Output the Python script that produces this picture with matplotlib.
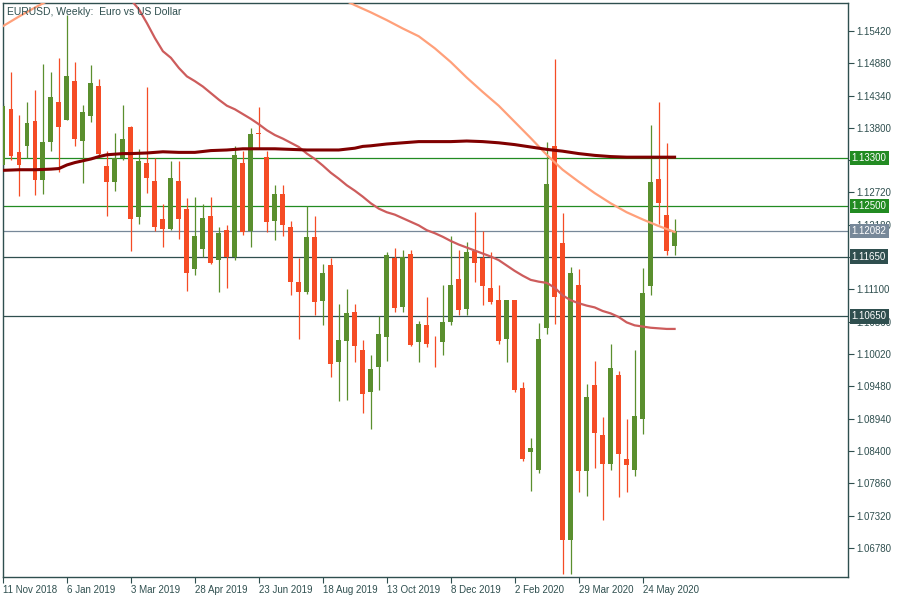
import numpy as np
import pandas as pd
import matplotlib
matplotlib.use("Agg")
import matplotlib.pyplot as plt
import matplotlib.transforms as mtransforms

plt.rcParams["font.family"] = ["Liberation Sans", "DejaVu Sans"]

# === weekly EURUSD candles, 11 Nov 2018 .. 21 Jun 2020 ===
opens = [1.1318, 1.1412, 1.1339, 1.1350, 1.1391, 1.1293, 1.1357, 1.1423, 1.1393, 1.1458,
         1.1358, 1.1399, 1.1450, 1.1317, 1.1289, 1.1329, 1.1381, 1.1231, 1.1322, 1.1292,
         1.1227, 1.1211, 1.1292, 1.1245, 1.1144, 1.1177, 1.1233, 1.1159, 1.1210, 1.1165,
         1.1322, 1.1208, 1.1371, 1.1331, 1.1224, 1.1269, 1.1215, 1.1123, 1.1105, 1.1198,
         1.1090, 1.1150, 1.0989, 1.1023, 1.1073, 1.1009, 1.0939, 1.0981, 1.1030, 1.1162,
         1.1080, 1.1169, 1.1022, 1.1051, 1.1016, 1.1022, 1.1055, 1.1128, 1.1077, 1.1175,
         1.1163, 1.1113, 1.1093, 1.1027, 1.1092, 1.0945, 1.0838, 1.0809, 1.1046, 1.1349,
         1.1188, 1.0692, 1.1118, 1.0806, 1.0950, 1.0866, 1.0819, 1.0967, 1.0826, 1.0809,
         1.0893, 1.1115, 1.1294, 1.1234, 1.1182]
highs = [1.1422, 1.1473, 1.1402, 1.1424, 1.1443, 1.1486, 1.1473, 1.1496, 1.1569, 1.1490,
         1.1419, 1.1485, 1.1461, 1.1342, 1.1371, 1.1419, 1.1383, 1.1344, 1.1448, 1.1329,
         1.1253, 1.1324, 1.1324, 1.1262, 1.1265, 1.1253, 1.1264, 1.1214, 1.1217, 1.1349,
         1.1342, 1.1379, 1.1414, 1.1342, 1.1285, 1.1284, 1.1225, 1.1162, 1.1250, 1.1232,
         1.1153, 1.1163, 1.1086, 1.1110, 1.1086, 1.1026, 1.1001, 1.1066, 1.1173, 1.1180,
         1.1176, 1.1176, 1.1057, 1.1098, 1.1033, 1.1118, 1.1200, 1.1176, 1.1189, 1.1240,
         1.1207, 1.1173, 1.1118, 1.1093, 1.1092, 1.0955, 1.0862, 1.1054, 1.1356, 1.1495,
         1.1237, 1.1148, 1.1144, 1.0952, 1.0990, 1.0897, 1.1019, 1.0973, 1.0894, 1.1008,
         1.1146, 1.1385, 1.1423, 1.1354, 1.1227]
lows = [1.1312, 1.1326, 1.1266, 1.1329, 1.1268, 1.1269, 1.1341, 1.1307, 1.1393, 1.1350,
        1.1288, 1.1389, 1.1335, 1.1232, 1.1274, 1.1326, 1.1174, 1.1219, 1.1271, 1.1208,
        1.1181, 1.1209, 1.1195, 1.1108, 1.1134, 1.1165, 1.1152, 1.1105, 1.1113, 1.1159,
        1.1201, 1.1181, 1.1345, 1.1206, 1.1192, 1.1199, 1.1100, 1.1027, 1.1102, 1.1067,
        1.1050, 1.0963, 1.0924, 1.0926, 1.0989, 1.0904, 1.0877, 1.0942, 1.0991, 1.1072,
        1.1073, 1.1015, 1.0988, 1.1013, 1.0980, 1.1001, 1.1051, 1.1067, 1.1067, 1.1123,
        1.1084, 1.1086, 1.1018, 1.0989, 1.0939, 1.0824, 1.0773, 1.0803, 1.1036, 1.1053,
        1.0635, 1.0635, 1.0771, 1.0765, 1.0811, 1.0725, 1.0808, 1.0764, 1.0772, 1.0798,
        1.0868, 1.1100, 1.1219, 1.1167, 1.1167]
closes = [1.1417, 1.1333, 1.1318, 1.1388, 1.1293, 1.1357, 1.1431, 1.1381, 1.1466, 1.1361,
          1.1406, 1.1455, 1.1336, 1.1289, 1.1330, 1.1362, 1.1227, 1.1324, 1.1297, 1.1214,
          1.1211, 1.1297, 1.1227, 1.1137, 1.1200, 1.1230, 1.1154, 1.1205, 1.1165, 1.1334,
          1.1206, 1.1369, 1.1369, 1.1222, 1.1269, 1.1217, 1.1122, 1.1105, 1.1198, 1.1089,
          1.1138, 1.0986, 1.1026, 1.1071, 1.1015, 1.0936, 1.0977, 1.1036, 1.1168, 1.1079,
          1.1164, 1.1017, 1.1053, 1.1018, 1.1015, 1.1056, 1.1118, 1.1075, 1.1173, 1.1154,
          1.1115, 1.1089, 1.1023, 1.1092, 1.0942, 1.0826, 1.0845, 1.1027, 1.1287, 1.1097,
          1.0692, 1.1138, 1.0806, 1.0931, 1.0870, 1.0818, 1.0978, 1.0835, 1.0816, 1.0899,
          1.1104, 1.1290, 1.1254, 1.1175, 1.12082]

# moving averages (bar index -> value), nan = off-screen gap
ma_light_idx = [0, 2, 4, 6, 8, 20, 41, 42, 44, 46, 48, 50, 52, 54, 56, 58, 60, 62, 64,
                66, 68, 70, 72, 74, 76, 78, 80, 82, 84]
ma_light = [1.1550, 1.1566, 1.1581, 1.1595, 1.1606, np.nan, 1.1605, 1.1598, 1.1585,
            1.1573, 1.1560, 1.1546, 1.1533, 1.1513, 1.1490, 1.1464, 1.1440, 1.1417,
            1.1390, 1.1363, 1.1335, 1.1310, 1.1290, 1.1271, 1.1254, 1.1239, 1.1227,
            1.1216, 1.1206]
ma_mid_idx = list(range(15, 85))
ma_mid = [1.1610, 1.1594, 1.1578, 1.1555, 1.1530, 1.1508, 1.1497, 1.1480, 1.1466, 1.1458,
          1.1449, 1.1438, 1.1427, 1.1417, 1.1411, 1.1403, 1.1395, 1.1386, 1.1376, 1.1368,
          1.1362, 1.1355, 1.1348, 1.1337, 1.1328, 1.1317, 1.1305, 1.1295, 1.1284, 1.1275,
          1.1265, 1.1254, 1.1245, 1.1239, 1.1235, 1.1229, 1.1223, 1.1217, 1.1209, 1.1204,
          1.1198, 1.1191, 1.1185, 1.1180, 1.1175, 1.1170, 1.1165, 1.1159, 1.1150, 1.1141,
          1.1133, 1.1126, 1.1123, 1.1121, 1.1113, 1.1100, 1.1092, 1.1087, 1.1083, 1.1080,
          1.1074, 1.1070, 1.1064, 1.1055, 1.1050, 1.1048, 1.1046, 1.1045, 1.1044, 1.1044]
ma_dark_idx = [0, 2, 4, 6, 7, 8, 9, 10, 11, 12, 13, 14, 15, 16, 18, 20, 22, 24, 26, 28,
               30, 32, 34, 36, 38, 40, 42, 44, 45, 46, 48, 50, 52, 54, 56, 58, 60, 62,
               64, 66, 68, 70, 72, 74, 76, 78, 80, 82, 84]
ma_dark = [1.1309, 1.1310, 1.1310, 1.1311, 1.1312, 1.1318, 1.1322, 1.1325, 1.1328, 1.1332,
           1.1335, 1.1336, 1.1337, 1.1337, 1.1338, 1.1340, 1.1339, 1.1339, 1.1342, 1.1343,
           1.1345, 1.1345, 1.1345, 1.1344, 1.1343, 1.1343, 1.1343, 1.1346, 1.1349, 1.1350,
           1.1353, 1.1355, 1.1357, 1.1357, 1.1357, 1.1358, 1.1357, 1.1355, 1.1352, 1.1348,
           1.1344, 1.1341, 1.1337, 1.1334, 1.1332, 1.1331, 1.1331, 1.1331, 1.1331]

# horizontal levels
levels = [1.13300, 1.12500, 1.12082, 1.11650, 1.10650]
level_colors = ["#228b22", "#228b22", "#778899", "#2f4f4f", "#2f4f4f"]

y_ticks = [1.15420, 1.14880, 1.14340, 1.13800, 1.13260, 1.12720, 1.12180, 1.11640,
           1.11100, 1.10560, 1.10020, 1.09480, 1.08940, 1.08400, 1.07860, 1.07320, 1.06780]
# tick labels that sit fully under a level box are not shown
hidden_ticks = [1.13260, 1.11640]

dates = pd.date_range("2018-11-11", periods=len(opens), freq="W-SUN")

BULL = "#5a8f2e"
BEAR = "#f54c25"
FRAME = "#2f4f4f"

fig = plt.figure(figsize=(9, 6), dpi=100)
ax = fig.add_axes([3 / 900, 23 / 600, 845 / 900, 574 / 600])

x = np.arange(len(opens))
o = np.array(opens)
h = np.array(highs)
l = np.array(lows)
c = np.array(closes)
up = c >= o
col = np.where(up, BULL, BEAR)

# horizontal levels
for lv, lc in zip(levels, level_colors):
    ax.axhline(lv, color=lc, lw=0.9, zorder=1)

# candles
ax.vlines(x, l, h, colors=col, lw=0.9, zorder=2)
body_lo = np.minimum(o, c)
body_h = np.maximum(np.abs(c - o), 0.00012)
ax.bar(x, body_h, bottom=body_lo, width=0.62, color=col, linewidth=0, zorder=3)

# moving averages
ax.plot(ma_light_idx, ma_light, color="#ffa07a", lw=1.6, zorder=4)
ax.plot(ma_mid_idx, ma_mid, color="#cd5c5c", lw=1.6, zorder=4)
ax.plot(ma_dark_idx, ma_dark, color="#800000", lw=2.2, zorder=4)

ax.set_xlim(0.0625, 105.69)
ax.set_ylim(1.06295, 1.15886)

for s in ax.spines.values():
    s.set_color(FRAME)
    s.set_linewidth(1.0)

# y axis on the right
ax.yaxis.tick_right()
ax.set_yticks(y_ticks)
ax.set_yticklabels(["" if v in hidden_ticks else f"{v:.5f}" for v in y_ticks])
ax.tick_params(axis="y", colors=FRAME, labelcolor=FRAME, length=4, width=0.8,
               pad=2, labelsize=7)

# x axis, every 8 weeks
xt = x[::8]
ax.set_xticks(xt)
ax.set_xticklabels([f"{d.day} {d.strftime('%b %Y')}" for d in dates[::8]],
                   ha="left")
ax.tick_params(axis="x", colors=FRAME, labelcolor=FRAME, length=4, width=0.8,
               pad=2, labelsize=7)

# price labels for the levels
tr = mtransforms.blended_transform_factory(ax.transAxes, ax.transData)
for lv, lc in zip(levels, level_colors):
    ax.text(1.0045, lv, f"{lv:.5f}", transform=tr, color="white", fontsize=7,
            va="center", ha="left", clip_on=False, zorder=6,
            bbox=dict(boxstyle="square,pad=0.22", fc=lc, ec="none"))

ax.text(0.005, 0.993, "EURUSD, Weekly:  Euro vs US Dollar", transform=ax.transAxes,
        color=FRAME, fontsize=7.5, va="top", ha="left", zorder=6)

fig.savefig("out.png", dpi=100)
